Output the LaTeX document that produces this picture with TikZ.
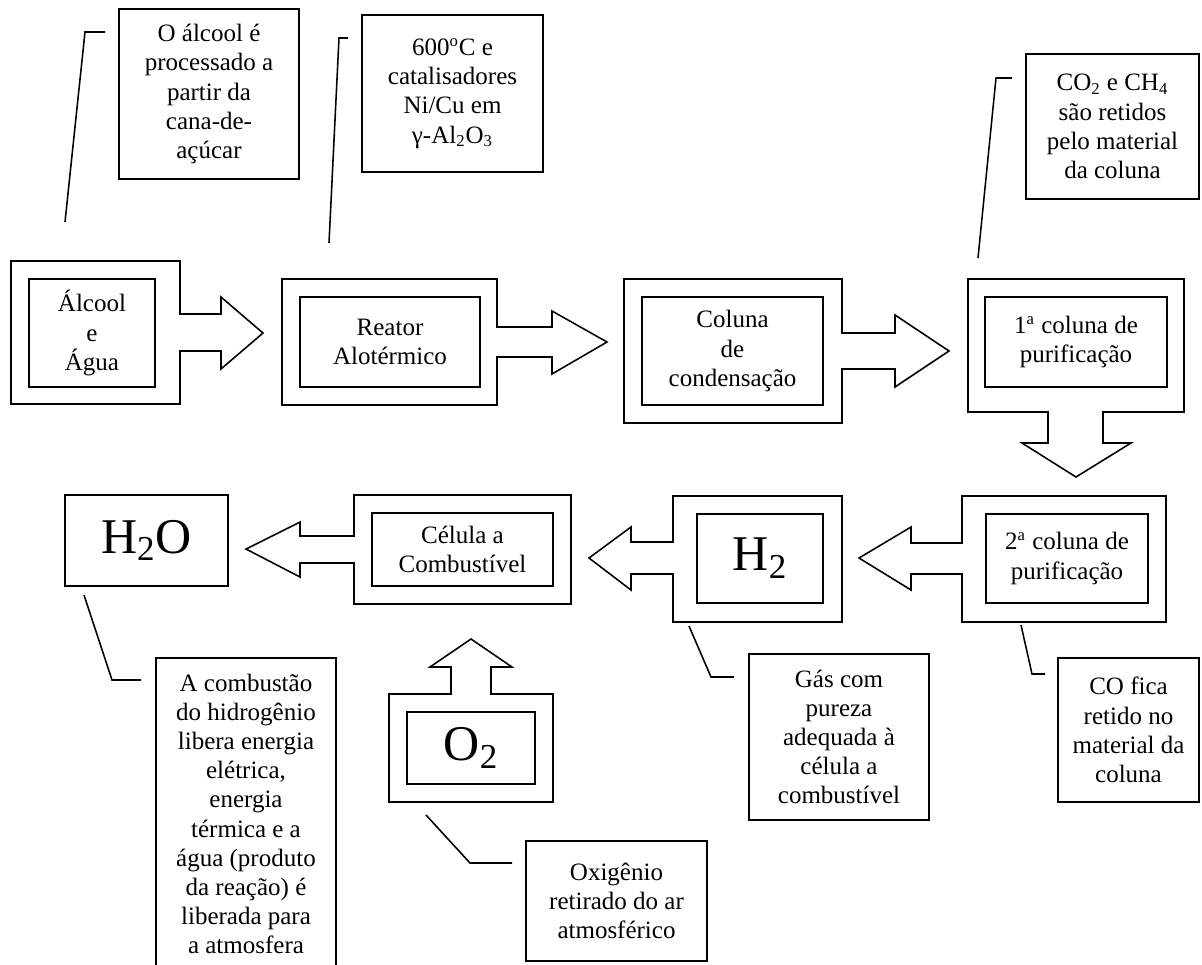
\documentclass[tikz,border=0pt]{standalone}
\usepackage{fontspec}
\setmainfont{Liberation Serif}
\newlength{\pxu}
\setlength{\pxu}{0.48pt}

\begin{document}
\begin{tikzpicture}[
            x = 0.48pt, y = -0.48pt, % one unit is one pixel, y runs down
            line width = 0.75pt, % line style
            line join = miter,
            font = \fontsize{12}{14}\selectfont
        ]

        \tikzstyle{caixa}=[
            draw = black,
            align = center,
            inner sep = 0pt
        ]
        \tikzstyle{grande}=[
            font = \fontsize{24}{28}\selectfont
        ]
        \tikzstyle{moldura}=[
            draw = black
        ]

        \useasboundingbox (0,0) rectangle (1202,964);
        \clip (0,0) rectangle (1202,964);

        % frames with block arrows
        \draw[moldura] (11,261) -- (180,261) -- (180,314) -- (221,314) -- (221,297) -- (263,333)
            -- (221,369) -- (221,351) -- (180,351) -- (180,404) -- (11,404) -- cycle;
        \draw[moldura] (282,279) -- (497,279) -- (497,327) -- (552,327) -- (552,311) -- (607,342)
            -- (552,374) -- (552,357) -- (497,357) -- (497,405) -- (282,405) -- cycle;
        \draw[moldura] (624,279) -- (842,279) -- (842,333) -- (895,333) -- (895,315) -- (949,351)
            -- (895,387) -- (895,369) -- (842,369) -- (842,423) -- (624,423) -- cycle;
        \draw[moldura] (968,279) -- (1184,279) -- (1184,412) -- (1103,412) -- (1103,443) -- (1131,443)
            -- (1076,477) -- (1022,443) -- (1048,443) -- (1048,412) -- (968,412) -- cycle;
        \draw[moldura] (962,496) -- (1166,496) -- (1166,622) -- (962,622) -- (962,574) -- (911,574)
            -- (911,590) -- (859,558) -- (911,527) -- (911,543) -- (962,543) -- cycle;
        \draw[moldura] (673,496) -- (842,496) -- (842,622) -- (673,622) -- (673,574) -- (631,574)
            -- (631,590) -- (589,558) -- (631,527) -- (631,542) -- (673,542) -- cycle;
        \draw[moldura] (354,495) -- (571,495) -- (571,604) -- (354,604) -- (354,563) -- (300,563)
            -- (300,577) -- (246,549) -- (300,522) -- (300,536) -- (354,536) -- cycle;
        \draw[moldura] (389,694) -- (451,694) -- (451,667) -- (430,667) -- (471,639) -- (512,667)
            -- (491,667) -- (491,694) -- (553,694) -- (553,802) -- (389,802) -- cycle;

        % process steps
        \node[caixa, minimum width = 126\pxu, minimum height = 108\pxu] (alcool) at (92,333) {Álcool\\e\\Água};
        \node[caixa, minimum width = 180\pxu, minimum height = 90\pxu] (reator) at (390,342) {Reator\\Alotérmico};
        \node[caixa, minimum width = 181\pxu, minimum height = 108\pxu] (coluna) at (732.5,351) {Coluna\\de\\condensação};
        \node[caixa, minimum width = 182\pxu, minimum height = 90\pxu] (purif1) at (1076,342) {1\textsuperscript{a} coluna de\\purificação};
        \node[caixa, minimum width = 162\pxu, minimum height = 89\pxu] (purif2) at (1067,558.5) {2\textsuperscript{a} coluna de\\purificação};
        \node[caixa, grande, minimum width = 126\pxu, minimum height = 89\pxu] (hidro) at (760,558.5) {H\textsubscript{2}};
        \node[caixa, minimum width = 181\pxu, minimum height = 73\pxu] (celula) at (462.5,549.5) {Célula a\\Combustível};
        \node[caixa, grande, minimum width = 163\pxu, minimum height = 91\pxu] (agua) at (146.5,540.5) {H\textsubscript{2}O};
        \node[caixa, grande, minimum width = 128\pxu, minimum height = 72\pxu] (oxi) at (471,748) {O\textsubscript{2}};

        % notes
        \node[caixa, minimum width = 180\pxu, minimum height = 170\pxu] (n1) at (209,94)
            {O álcool é\\processado a\\partir da\\cana-de-\\açúcar};
        \node[caixa, minimum width = 181\pxu, minimum height = 157\pxu] (n2) at (452.5,93.5)
            {600\textsuperscript{o}C e\\catalisadores\\Ni/Cu em\\γ-Al\textsubscript{2}O\textsubscript{3}};
        \node[caixa, minimum width = 173\pxu, minimum height = 145\pxu] (n3) at (1112.5,126.5)
            {CO\textsubscript{2} e CH\textsubscript{4}\\são retidos\\pelo material\\da coluna};
        \node[caixa, minimum width = 180\pxu, minimum height = 312\pxu] (n4) at (246,814)
            {A combustão\\do hidrogênio\\libera energia\\elétrica,\\energia\\térmica e a\\água (produto\\da reação) é\\liberada para\\a atmosfera};
        \node[caixa, minimum width = 181\pxu, minimum height = 120\pxu] (n5) at (616.5,901)
            {Oxigênio\\retirado do ar\\atmosférico};
        \node[caixa, minimum width = 180\pxu, minimum height = 166\pxu] (n6) at (839,737)
            {Gás com\\pureza\\adequada à\\célula a\\combustível};
        \node[caixa, minimum width = 141\pxu, minimum height = 144\pxu] (n7) at (1128.5,730)
            {CO fica\\retido no\\material da\\coluna};

        % leader lines
        \coordinate (a1) at (65,222);   \coordinate (b1) at (85,32);   \coordinate (c1) at (105,32);
        \coordinate (a2) at (329,243);  \coordinate (b2) at (339,38);  \coordinate (c2) at (348,38);
        \coordinate (a3) at (978,258);  \coordinate (b3) at (996,78);  \coordinate (c3) at (1012,78);
        \coordinate (a4) at (84,595);   \coordinate (b4) at (112,680); \coordinate (c4) at (141,680);
        \coordinate (a5) at (426,815);  \coordinate (b5) at (470,863); \coordinate (c5) at (512,863);
        \coordinate (a6) at (689,626);  \coordinate (b6) at (711,677); \coordinate (c6) at (734,677);
        \coordinate (a7) at (1021,625); \coordinate (b7) at (1032,674); \coordinate (c7) at (1045,674);

        \draw (a1) -- (b1) -- (c1);
        \draw (a2) -- (b2) -- (c2);
        \draw (a3) -- (b3) -- (c3);
        \draw (a4) -- (b4) -- (c4);
        \draw (a5) -- (b5) -- (c5);
        \draw (a6) -- (b6) -- (c6);
        \draw (a7) -- (b7) -- (c7);

    \end{tikzpicture}
\end{document}
